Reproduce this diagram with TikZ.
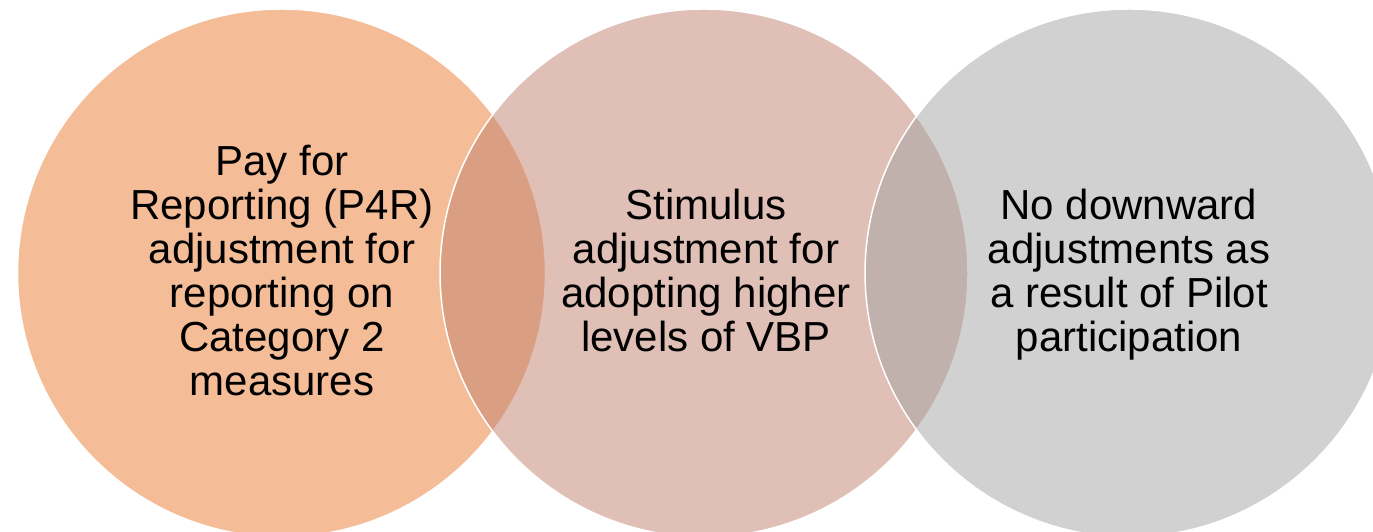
\documentclass[tikz,border=0pt]{standalone}
\usepackage{fontspec}
\setmainfont{Liberation Sans}
\definecolor{cone}{HTML}{ED7D31}
\definecolor{ctwo}{HTML}{C1816F}
\definecolor{cthree}{HTML}{A5A5A5}
\begin{document}
\begin{tikzpicture}[x=1pt,y=1pt,
  venn/.style={circle, minimum size=528pt, inner sep=0pt, draw=white, line width=1.5pt, fill opacity=0.5, draw opacity=1},
  lbl/.style={anchor=north, inner sep=0pt, align=center, font=\fontsize{42}{44}\selectfont, text=black}]
\useasboundingbox (0,0) rectangle (1373,532);
\fill[white] (0,0) rectangle (1373,532);
\node[venn, fill=cone] (c1) at (281.5,259) {};
\node[venn, fill=ctwo] (c2) at (704,259) {};
\node[venn, fill=cthree] (c3) at (1129,259) {};
\node[lbl] (t1) at (282,389) {\rule{0pt}{32pt}Pay for\\Reporting (P4R)\\adjustment for\\reporting on\\Category 2\\measures};
\node[lbl] (t2) at (706,345) {\rule{0pt}{32pt}Stimulus\\adjustment for\\adopting higher\\levels of VBP};
\node[lbl] (t3) at (1129,345) {\rule{0pt}{32pt}No downward\\adjustments as\\a result of Pilot\\participation};
\end{tikzpicture}
\end{document}
